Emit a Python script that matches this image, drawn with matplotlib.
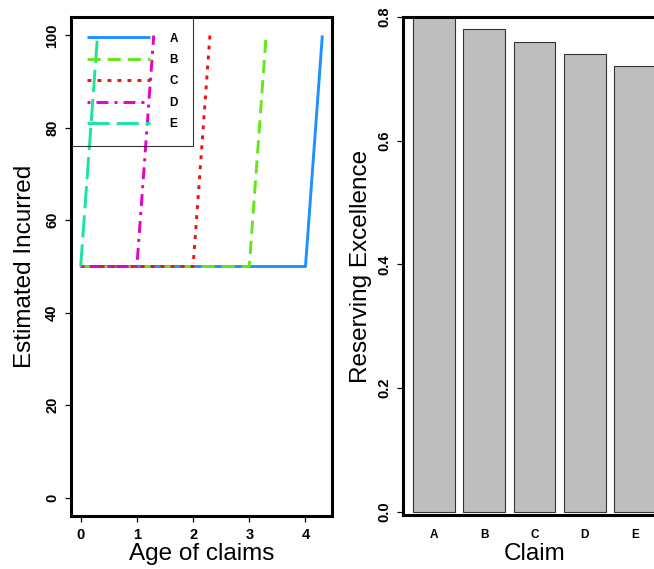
import matplotlib
matplotlib.use("Agg")
from matplotlib import pyplot as plt

plt.rcParams['font.family'] = ['Liberation Sans', 'DejaVu Sans']
plt.rcParams['lines.scale_dashes'] = False

#### data
claims = ["A", "B", "C", "D", "E"]

age_A = [0, 4, 4.3]
age_B = [0, 3, 3.3]
age_C = [0, 2, 2.3]
age_D = [0, 1, 1.3]
age_E = [0, 0.3]
incurred_A = [50, 50, 100]
incurred_B = [50, 50, 100]
incurred_C = [50, 50, 100]
incurred_D = [50, 50, 100]
incurred_E = [50, 100]

excellence = [0.80, 0.78, 0.76, 0.74, 0.72]

x_ticks = [0, 1, 2, 3, 4]
y_ticks_left = [0, 20, 40, 60, 80, 100]
y_ticks_right = [0.0, 0.2, 0.4, 0.6, 0.8]

# styles (R-ish colours and lty 1..5)
colors = ["#1E90FF", "#66E61A", "#EE1111", "#E600C8", "#1AE69A"]
dashes = [None, (0, (9.5, 5.0)), (0, (2.8, 4.4)), (0, (2.2, 4.3, 8.6, 4.3)), (0, (16, 5))]

fig = plt.figure(figsize=(6.54, 5.69), dpi=100)
ax1 = fig.add_axes([71 / 654, 1 - 516 / 569, 261 / 654, 499 / 569])
ax2 = fig.add_axes([403 / 654, 1 - 515 / 569, 263 / 654, 498 / 569])

#### left panel: development lines
ages = [age_A, age_B, age_C, age_D, age_E]
incs = [incurred_A, incurred_B, incurred_C, incurred_D, incurred_E]
for name, xs, ys, c, d in zip(claims, ages, incs, colors, dashes):
    if d is None:
        ax1.plot(xs, ys, color=c, lw=2.1, label=name, solid_capstyle='butt')
    else:
        ax1.plot(xs, ys, color=c, lw=2.1, label=name, linestyle=d, dash_capstyle='butt')

ax1.set_xlim(-0.172, 4.472)
ax1.set_ylim(-4, 104)
ax1.set_xticks(x_ticks)
ax1.set_yticks(y_ticks_left)

leg = ax1.legend(loc='upper left', bbox_to_anchor=(0, 1), borderaxespad=0,
                 prop={'weight': 'bold', 'size': 8.5}, handlelength=5.4,
                 handletextpad=1.6, borderpad=1.32, labelspacing=0.8,
                 fancybox=False, frameon=True)
leg.get_frame().set_facecolor('none')
leg.get_frame().set_edgecolor('black')
leg.get_frame().set_linewidth(0.8)

ax1.set_xlabel("Age of claims", fontsize=17.5, va='center')
ax1.set_ylabel("Estimated Incurred", fontsize=17.5, va='center')
ax1.xaxis.set_label_coords(0.5, -(554 - 516) / 499)
ax1.yaxis.set_label_coords(-(71 - 25.5) / 261, 0.5)

#### right panel: barplot
bar_pos = [0.7, 1.9, 3.1, 4.3, 5.5]
ax2.bar(bar_pos, excellence, width=1.0, color='#BEBEBE', edgecolor='#333333', linewidth=0.8)
ax2.set_xlim(-0.032, 6.232)
ax2.set_ylim(-0.0055, 0.8)
ax2.set_xticks(bar_pos)
ax2.set_xticklabels(claims)
ax2.set_yticks(y_ticks_right)
ax2.set_yticklabels(["0.0", "0.2", "0.4", "0.6", "0.8"])
ax2.set_xlabel("Claim", fontsize=17.5, va='center')
ax2.set_ylabel("Reserving Excellence", fontsize=17.5, va='center')
ax2.xaxis.set_label_coords(0.5, -(554 - 515) / 498)
ax2.yaxis.set_label_coords(-(403 - 360.5) / 263, 0.5)

for ax in (ax1, ax2):
    for s in ax.spines.values():
        s.set_linewidth(2.2)
    ax.tick_params(direction='out', length=4.5, width=0.9, labelsize=10.5)
    ax.tick_params(axis='y', labelrotation=90, pad=4)
    for lab in ax.get_xticklabels() + ax.get_yticklabels():
        lab.set_fontweight('bold')
    for lab in ax.get_yticklabels():
        lab.set_va('center')

ax1.tick_params(axis='x', pad=4)
ax2.tick_params(axis='x', length=0, pad=10, labelsize=8.5)

fig.savefig("out.png", dpi=100)
